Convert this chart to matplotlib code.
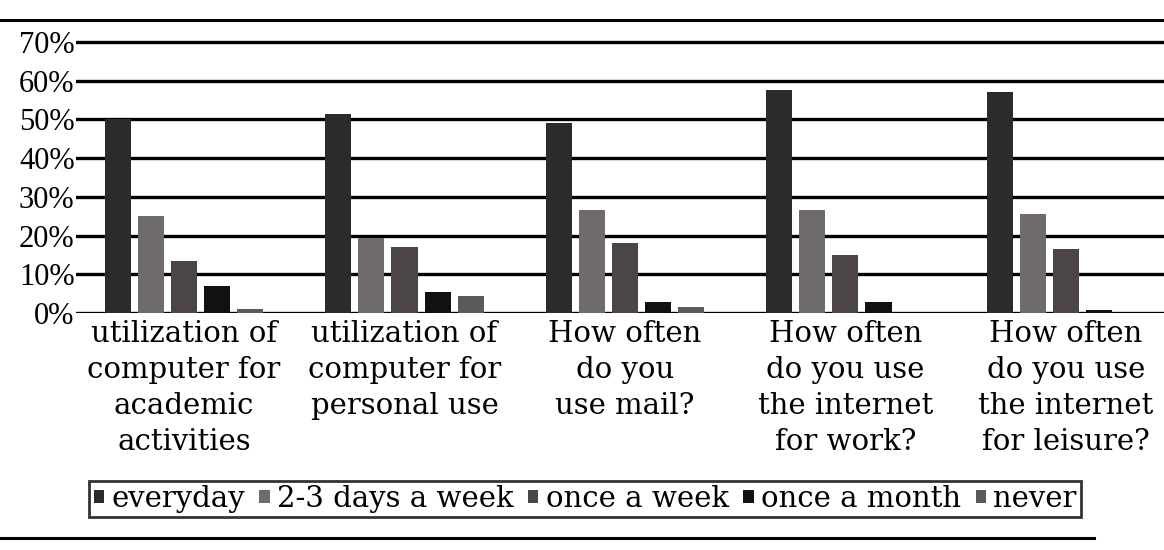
import matplotlib
matplotlib.use("Agg")
from matplotlib import pyplot as plt
from matplotlib.lines import Line2D
import numpy as np

# categories (x axis)
questions = [
    "utilization of\ncomputer for\nacademic\nactivities",
    "utilization of\ncomputer for\npersonal use",
    "How often\ndo you\nuse mail?",
    "How often\ndo you use\nthe internet\nfor work?",
    "How often\ndo you use\nthe internet\nfor leisure?",
]

# answer series (percent)
everyday = [50, 51.5, 49, 57.5, 57]
two_three_days = [25, 19.5, 26.5, 26.5, 25.5]
once_a_week = [13.5, 17, 18, 15, 16.5]
once_a_month = [7, 5.5, 2.8, 2.8, 0.8]
never = [1, 4.5, 1.5, 0, 0]

series_names = ["everyday", "2-3 days a week", "once a week", "once a month", "never"]
series_colors = ["#2d2a2a", "#6f6b6c", "#4b4545", "#121111", "#5d5959"]

y_ticks = [0, 10, 20, 30, 40, 50, 60, 70]

fig = plt.figure(figsize=(11.64, 5.5), dpi=100)
ax = fig.add_axes([76 / 1164, 0.4309, 1 - 76 / 1164, 0.497])

x = np.arange(len(questions))
pitch = 0.15
width = 0.118
all_series = [everyday, two_three_days, once_a_week, once_a_month, never]
for i, (vals, name, col) in enumerate(zip(all_series, series_names, series_colors)):
    ax.bar(x + (i - 2) * pitch, vals, width, color=col, label=name, zorder=3)

ax.set_ylim(0, 70.6)
ax.set_xlim(-0.49, 4.445)
ax.set_yticks(y_ticks)
ax.set_yticklabels([f"{t}%" for t in y_ticks], family="Liberation Serif", fontsize=22)
ax.yaxis.grid(True, color="black", linewidth=2.4)
ax.set_axisbelow(True)
for s in ax.spines.values():
    s.set_visible(False)
ax.tick_params(axis="y", length=0, pad=1)

ax.set_xticks(x)
ax.set_xticklabels(questions, family="DejaVu Serif", fontsize=21, linespacing=1.36)
ax.tick_params(axis="x", length=0, pad=5)

leg = fig.legend(loc="center", bbox_to_anchor=(0.5026, 0.0927), ncol=5,
                 prop={"family": "DejaVu Serif", "size": 21},
                 handlelength=0.35, handleheight=0.35, handletextpad=0.25,
                 columnspacing=0.5, borderpad=0.15, fancybox=False, frameon=True)
leg.get_frame().set_edgecolor("black")
leg.get_frame().set_linewidth(2)

# outer rules above and below the chart
fig.add_artist(Line2D([0, 1], [1 - 20 / 550] * 2, transform=fig.transFigure, color="black", lw=2.2))
fig.add_artist(Line2D([0, 0.94], [1 - 538 / 550] * 2, transform=fig.transFigure, color="black", lw=2.2))

fig.savefig("out.png", dpi=100)
